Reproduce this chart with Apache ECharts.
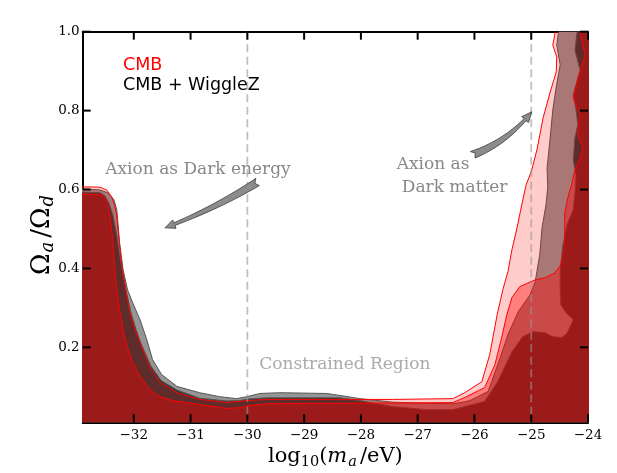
<!DOCTYPE html>
<html>
<head>
<meta charset="utf-8">
<script src="https://cdn.jsdelivr.net/npm/echarts@6/dist/echarts.min.js"></script>
<style>
  html, body { margin: 0; padding: 0; background: #fff; }
  #chart { width: 617px; height: 473px; }
</style>
</head>
<body>
<div id="chart"></div>
<script>
// tick values
var xTicks = [-32, -31, -30, -29, -28, -27, -26, -25, -24];
var yTicks = [0.2, 0.4, 0.6, 0.8, 1.0];
var xMin = -32.9, xMax = -24, yMin = 0.01, yMax = 1.0;

// contour edges, [log10(m_a/eV), Omega_a/Omega_d]
// CMB + WiggleZ, 95% edge
var wiggle95 = [
  [-33.0, 0.602], [-32.60, 0.599], [-32.46, 0.592], [-32.35, 0.574], [-32.30, 0.549],
  [-32.25, 0.465], [-32.19, 0.397], [-32.11, 0.346], [-32.02, 0.313], [-31.89, 0.270],
  [-31.77, 0.219], [-31.67, 0.169], [-31.51, 0.131], [-31.24, 0.101], [-30.84, 0.085],
  [-30.49, 0.075], [-30.19, 0.070], [-30.01, 0.075], [-29.78, 0.083], [-29.43, 0.085],
  [-28.60, 0.083], [-28.37, 0.078], [-28.02, 0.070], [-27.44, 0.061], [-26.84, 0.058],
  [-26.38, 0.057], [-26.17, 0.062], [-26.08, 0.065], [-25.76, 0.088], [-25.59, 0.156],
  [-25.41, 0.232], [-25.23, 0.290], [-25.02, 0.333], [-24.93, 0.366], [-24.90, 0.392],
  [-24.85, 0.435], [-24.81, 0.503], [-24.74, 0.561], [-24.71, 0.604], [-24.72, 0.655],
  [-24.67, 0.726], [-24.62, 0.802], [-24.56, 0.860], [-24.49, 0.916], [-24.55, 0.966],
  [-24.53, 0.989], [-24.49, 1.02]
];
// CMB + WiggleZ, 68% edge
var wiggle68 = [
  [-33.0, 0.594], [-32.60, 0.592], [-32.51, 0.584], [-32.44, 0.566], [-32.37, 0.536],
  [-32.30, 0.485], [-32.25, 0.435], [-32.19, 0.384], [-32.12, 0.333], [-32.05, 0.288],
  [-31.96, 0.245], [-31.88, 0.212], [-31.70, 0.153], [-31.52, 0.116], [-31.24, 0.092],
  [-30.84, 0.071], [-30.36, 0.064], [-30.13, 0.065], [-30.01, 0.069], [-29.66, 0.072],
  [-28.37, 0.072], [-28.02, 0.065], [-27.44, 0.050], [-26.84, 0.042], [-26.38, 0.042],
  [-26.17, 0.050], [-25.82, 0.063], [-25.59, 0.113], [-25.34, 0.189], [-25.15, 0.227],
  [-24.97, 0.240], [-24.76, 0.237], [-24.62, 0.227], [-24.46, 0.225], [-24.37, 0.235],
  [-24.26, 0.270], [-24.39, 0.288], [-24.48, 0.308], [-24.49, 0.346], [-24.49, 0.397],
  [-24.44, 0.460], [-24.37, 0.511], [-24.26, 0.549], [-24.23, 0.592], [-24.21, 0.637],
  [-24.26, 0.675], [-24.23, 0.731], [-24.18, 0.764], [-24.21, 0.802], [-24.26, 0.840],
  [-24.14, 0.903], [-24.23, 0.953], [-24.19, 1.002], [-24.19, 1.02]
];
// CMB, 95% edge
var cmb95 = [
  [-33.0, 0.607], [-32.60, 0.606], [-32.48, 0.599], [-32.39, 0.582], [-32.34, 0.561],
  [-32.30, 0.536], [-32.26, 0.473], [-32.21, 0.409], [-32.14, 0.346], [-32.07, 0.288],
  [-31.98, 0.245], [-31.89, 0.212], [-31.72, 0.151], [-31.54, 0.111], [-31.24, 0.085],
  [-30.84, 0.068], [-30.36, 0.060], [-30.01, 0.065], [-29.66, 0.068], [-28.60, 0.068],
  [-27.44, 0.068], [-26.38, 0.070], [-26.17, 0.085], [-25.87, 0.113], [-25.73, 0.182],
  [-25.60, 0.283], [-25.50, 0.346], [-25.41, 0.392], [-25.34, 0.447], [-25.25, 0.503],
  [-25.16, 0.566], [-25.09, 0.612], [-25.00, 0.645], [-24.90, 0.700], [-24.79, 0.782],
  [-24.67, 0.845], [-24.56, 0.898], [-24.55, 0.936], [-24.62, 0.966], [-24.58, 0.997],
  [-24.56, 1.02]
];
// CMB, 68% edge
var cmb68 = [
  [-33.0, 0.589], [-32.60, 0.587], [-32.53, 0.582], [-32.46, 0.561], [-32.41, 0.523],
  [-32.37, 0.473], [-32.34, 0.409], [-32.30, 0.346], [-32.25, 0.295], [-32.19, 0.245],
  [-32.11, 0.199], [-32.02, 0.161], [-31.89, 0.126], [-31.72, 0.093], [-31.54, 0.075],
  [-31.31, 0.065], [-30.84, 0.055], [-30.36, 0.045], [-30.13, 0.047], [-30.01, 0.052],
  [-29.66, 0.057], [-28.78, 0.058], [-27.31, 0.059], [-26.38, 0.060], [-26.17, 0.073],
  [-25.82, 0.098], [-25.64, 0.156], [-25.52, 0.225], [-25.43, 0.283], [-25.34, 0.326],
  [-25.20, 0.354], [-24.93, 0.371], [-24.76, 0.376], [-24.58, 0.389], [-24.48, 0.409],
  [-24.42, 0.447], [-24.41, 0.498], [-24.41, 0.541], [-24.35, 0.582], [-24.28, 0.617],
  [-24.23, 0.650], [-24.14, 0.680], [-24.09, 0.706], [-24.18, 0.739], [-24.14, 0.789],
  [-24.26, 0.832], [-24.19, 0.875], [-24.05, 0.941], [-24.14, 0.997], [-24.12, 1.02]
];

var markerLines = [-30, -25];

// annotations
var noteTexts = ['Axion as Dark energy', 'Axion as', 'Dark matter', 'Constrained Region'];
var notePos = [[-30.87, 0.651], [-27.37, 0.664], [-27.28, 0.606], [-29.79, 0.157]];
var arrowTails = [[-29.82, 0.619], [-26.03, 0.688]];
var arrowHeads = [[-31.45, 0.503], [-24.99, 0.797]];

var chart = echarts.init(document.getElementById('chart'));

// fill everything below/right of an edge, the grid clip trims the rest
function edgeSeries(name, edge, fill, stroke) {
  return {
    type: 'custom',
    name: name,
    clip: true,
    silent: true,
    data: [0],
    renderItem: function (params, api) {
      var first = edge[0], last = edge[edge.length - 1];
      var closing = [[-23.5, last[1]], [-23.5, -0.1], [-33.5, -0.1], [-33.5, first[1]]];
      var pts = edge.concat(closing).map(function (p) { return api.coord(p); });
      return {
        type: 'polygon',
        shape: { points: pts },
        style: { fill: fill, stroke: stroke, lineWidth: 1, lineJoin: 'round' }
      };
    }
  };
}

function arrowPoints(a, b, bend) {
  var dx = b[0] - a[0], dy = b[1] - a[1];
  var len = Math.sqrt(dx * dx + dy * dy);
  var ux = dx / len, uy = dy / len, nx = -uy, ny = ux;
  var headLen = 10, steps = 20, bodyLen = len - headLen;
  function centre(s) {
    var t = s / len, off = bend * 4 * t * (1 - t);
    return [a[0] + ux * s + nx * off, a[1] + uy * s + ny * off];
  }
  var left = [], right = [];
  for (var i = 0; i <= steps; i++) {
    var c = centre(bodyLen * i / steps);
    var w = 4 - 2.6 * i / steps;
    left.push([c[0] + nx * w, c[1] + ny * w]);
    right.push([c[0] - nx * w, c[1] - ny * w]);
  }
  var base = centre(bodyLen);
  var hx = b[0] - base[0], hy = b[1] - base[1], hl = Math.sqrt(hx * hx + hy * hy);
  var px = -hy / hl, py = hx / hl;
  var pts = left.slice();
  pts.push([base[0] + px * 4.5, base[1] + py * 4.5]);
  pts.push([b[0], b[1]]);
  pts.push([base[0] - px * 4.5, base[1] - py * 4.5]);
  pts = pts.concat(right.reverse());
  var tc = centre(0);
  pts.push([tc[0] + ux * 3, tc[1] + uy * 3]);
  return pts;
}

var serif = 'DejaVu Serif';
function mathRich(size, sub, lh, gap) {
  return {
    n: { fontFamily: serif, fontSize: size, lineHeight: lh, color: '#000' },
    i: { fontFamily: serif, fontStyle: 'italic', fontSize: size, lineHeight: lh, color: '#000' },
    s: { fontFamily: serif, fontSize: sub, verticalAlign: 'bottom', color: '#000' },
    si: { fontFamily: serif, fontStyle: 'italic', fontSize: sub, verticalAlign: 'bottom', color: '#000', padding: [0, gap, 0, 1] }
  };
}

var lineStyle = { show: true, onZero: false, lineStyle: { color: '#000', width: 2 } };

var option = {
  backgroundColor: '#fff',
  animation: false,
  grid: { left: 82.7, right: 29, top: 31.7, bottom: 50.7, containLabel: false, outerBoundsMode: 'none' },
  legend: {
    orient: 'vertical',
    left: 118,
    top: 56.5,
    padding: 0,
    itemGap: 2,
    itemWidth: 0,
    itemHeight: 0,
    icon: 'none',
    selectedMode: false,
    textStyle: { fontFamily: 'DejaVu Sans', fontSize: 17.5 },
    data: [
      { name: 'CMB', textStyle: { color: '#ff0000' } },
      { name: 'CMB + WiggleZ', textStyle: { color: '#000000' } }
    ]
  },
  xAxis: [{
    type: 'value', min: xMin, max: xMax, position: 'bottom',
    axisLine: lineStyle,
    axisTick: { show: false },
    axisLabel: {
      customValues: xTicks.slice(), margin: 6, color: '#000', fontFamily: serif, fontSize: 13.5,
      formatter: function (v) { return String(v).replace('-', '\u2212'); }
    },
    splitLine: { show: false },
    name: '{n|log}{s|10}{n|(}{i|m}{si|a}{n|/eV)}',
    nameLocation: 'middle',
    nameMoveOverlap: false,
    nameGap: 21,
    nameTextStyle: { rich: mathRich(21, 14.5, 26, 3) }
  }, {
    type: 'value', min: xMin, max: xMax, position: 'top',
    axisLine: lineStyle,
    axisTick: { show: false },
    axisLabel: { show: false },
    splitLine: { show: false }
  }],
  yAxis: [{
    type: 'value', min: yMin, max: yMax, position: 'left',
    axisLine: lineStyle,
    axisTick: { show: false },
    axisLabel: {
      customValues: yTicks.slice(), margin: 3, color: '#000', fontFamily: serif, fontSize: 13.5,
      formatter: function (v) { return v.toFixed(1); }
    },
    splitLine: { show: false },
    name: '{n|\u03a9}{si|a}{n|/\u03a9}{si|d}',
    nameLocation: 'middle',
    nameMoveOverlap: false,
    nameRotate: 90,
    nameGap: 25,
    nameTextStyle: { rich: mathRich(26, 18, 30, 4), padding: [0, 12, 0, 0] }
  }, {
    type: 'value', min: yMin, max: yMax, position: 'right',
    axisLine: lineStyle,
    axisTick: { show: false },
    axisLabel: { show: false },
    splitLine: { show: false }
  }],
  series: [
    edgeSeries('CMB + WiggleZ', wiggle95, '#959595', '#555555'),
    edgeSeries('CMB + WiggleZ', wiggle68, '#383838', '#555555'),
    edgeSeries('CMB', cmb95, 'rgba(255,0,0,0.2)', '#ff0000'),
    edgeSeries('CMB', cmb68, 'rgba(255,0,0,0.375)', '#ff0000'),
    {
      type: 'custom',
      silent: true,
      data: markerLines.map(function (v) { return [v]; }),
      renderItem: function (params, api) {
        var x = api.value(0);
        var top = api.coord([x, yMax]), bot = api.coord([x, yMin]);
        return {
          type: 'line',
          shape: { x1: top[0], y1: top[1], x2: bot[0], y2: bot[1] },
          style: { stroke: 'rgba(150,150,150,0.6)', lineWidth: 1.8, lineDash: [8, 4.5] }
        };
      }
    },
    {
      // inward ticks on all four sides, then arrows and notes
      type: 'custom',
      silent: true,
      data: [0],
      renderItem: function (params, api) {
        var kids = [];
        xTicks.forEach(function (v) {
          var b = api.coord([Number(v), yMin]), t = api.coord([Number(v), yMax]);
          kids.push({ type: 'rect', shape: { x: b[0] - 1, y: b[1] - 8, width: 2, height: 8 }, style: { fill: '#000' } });
          kids.push({ type: 'rect', shape: { x: t[0] - 1, y: t[1], width: 2, height: 8 }, style: { fill: '#000' } });
        });
        yTicks.forEach(function (v) {
          var l = api.coord([xMin, Number(v)]), r = api.coord([xMax, Number(v)]);
          kids.push({ type: 'rect', shape: { x: l[0], y: l[1] - 1, width: 8, height: 2 }, style: { fill: '#000' } });
          kids.push({ type: 'rect', shape: { x: r[0] - 8, y: r[1] - 1, width: 8, height: 2 }, style: { fill: '#000' } });
        });
        var bends = [-2.5, 5];
        arrowTails.forEach(function (t, i) {
          kids.push({
            type: 'polygon',
            shape: { points: arrowPoints(api.coord(t), api.coord(arrowHeads[i]), bends[i]) },
            style: { fill: '#8c8c8c', stroke: '#3a3a3a', lineWidth: 0.8 }
          });
        });
        var aligns = ['center', 'left', 'left', 'left'];
        var colors = ['#888888', '#888888', '#888888', '#aaaaaa'];
        noteTexts.forEach(function (txt, i) {
          var p = api.coord(notePos[i]);
          kids.push({
            type: 'text',
            x: p[0], y: p[1],
            style: {
              text: txt, fill: colors[i], fontFamily: serif, fontSize: 17,
              align: aligns[i], verticalAlign: 'middle'
            }
          });
        });
        return { type: 'group', children: kids };
      }
    }
  ]
};

chart.setOption(option);
</script>
</body>
</html>
